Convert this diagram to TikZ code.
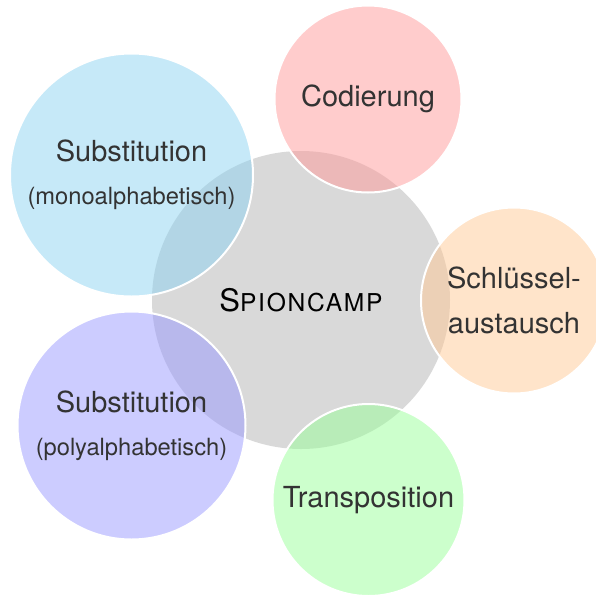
\documentclass[tikz,border=0pt]{standalone}
\usepackage{fontspec}
\setmainfont{TeX Gyre Heros}
\definecolor{cgrey}{RGB}{217,217,217}
\definecolor{cblue}{RGB}{141,211,241}
\definecolor{cpink}{RGB}{255,153,153}
\definecolor{corange}{RGB}{255,201,149}
\definecolor{cgreen}{RGB}{153,255,153}
\definecolor{clav}{RGB}{153,153,255}
\definecolor{ctext}{RGB}{51,51,51}
\begin{document}
\begin{tikzpicture}[x=1pt,y=-1pt,
  hub/.style={circle, fill=cgrey, inner sep=0pt, minimum size=298pt, text=black},
  sat/.style={circle, draw=white, line width=2pt, fill opacity=0.5, text opacity=1,
    inner sep=0pt, align=center, text=ctext, font=\fontsize{29}{43}\selectfont}
]
\useasboundingbox (0,0) rectangle (596,598);
\clip (0,0) rectangle (596,598);
\node[hub] (c) at (301,300) {{\fontsize{31}{31}\selectfont\addfontfeature{LetterSpace=7}S}{\fontsize{24.6}{24.6}\selectfont\addfontfeature{LetterSpace=7}PIONCAMP}};
\node[sat, fill=cpink, minimum size=187pt] (cod) at (368,99) {Codierung};
\node[sat, fill=corange, minimum size=186pt] (sch) at (514,300.5) {Schlüssel-\\[2pt]austausch};
\node[sat, fill=cgreen, minimum size=192pt] (tra) at (368.5,500) {\raisebox{-2pt}{Transposition}};
\node[sat, fill=clav, minimum size=228pt] (poly) at (131.5,425.5) {Substitution\\{\fontsize{23.7}{43}\selectfont(polyalphabetisch)}};
\node[sat, fill=cblue, minimum size=243pt] (mono) at (131.5,175) {Substitution\\{\fontsize{23.7}{43}\selectfont(monoalphabetisch)}};
\end{tikzpicture}
\end{document}
